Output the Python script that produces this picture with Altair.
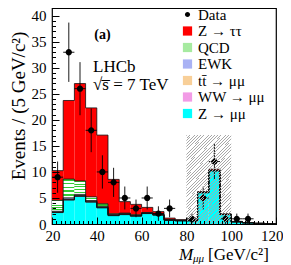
import altair as alt
import pandas as pd

# ---------------- data ----------------
bin_lo = [20, 25, 30, 35, 40, 45, 50, 55, 60, 65, 70, 75, 80, 85, 90, 95, 100, 105, 110, 115]
bin_hi = [25, 30, 35, 40, 45, 50, 55, 60, 65, 70, 75, 80, 85, 90, 95, 100, 105, 110, 115, 120]

z_mumu = [2.2, 4.6, 5.3, 4.2, 3.1, 1.6, 1.8, 1.5, 2.0, 1.7, 0.7, 0.6, 0.6, 6.0, 10.2, 1.8, 0.4, 0.2, 0.1, 0.05]
ww = [0.05, 0.08, 0.08, 0.06, 0.05, 0.04, 0.04, 0.03, 0.03, 0.03, 0.02, 0.02, 0.02, 0.02, 0.02, 0.02, 0.01, 0.01, 0.01, 0.01]
ttbar = [0.05, 0.1, 0.1, 0.1, 0.08, 0.08, 0.06, 0.06, 0.05, 0.05, 0.04, 0.04, 0.03, 0.03, 0.03, 0.02, 0.02, 0.02, 0.01, 0.01]
ewk = [0.15, 0.25, 0.2, 0.15, 0.15, 0.1, 0.1, 0.08, 0.06, 0.05, 0.05, 0.04, 0.04, 0.05, 0.05, 0.03, 0.02, 0.02, 0.01, 0.01]
qcd = [2.1, 3.6, 2.6, 0.7, 0.5, 0.15, 0.1, 0.1, 0.05, 0.05, 0.03, 0.03, 0.02, 0.02, 0.02, 0.02, 0.01, 0.01, 0.0, 0.0]
z_tautau = [5.7, 15.1, 18.7, 17.1, 13.2, 6.6, 2.2, 2.0, 1.0, 0.5, 0.3, 0.1, 0.05, 0.1, 0.2, 0.05, 0.05, 0.03, 0.0, 0.0]

data_x = [22.5, 27.5, 32.5, 37.5, 42.5, 47.5, 52.5, 57.5, 62.5, 67.5, 72.5, 82.5, 87.5, 92.5, 97.5, 102.5, 107.5]
data_y = [9, 33, 26, 18, 10, 8, 5, 3, 5, 2, 3, 1, 5, 12, 1, 1, 1]
data_err = [3.0, 5.7, 5.1, 4.2, 3.2, 2.8, 2.2, 1.7, 2.2, 1.4, 1.7, 1.0, 2.2, 3.5, 1.0, 1.0, 1.0]
data_halfwidth = 2.5

hatch_lo = [80]
hatch_hi = [100]
hatch_top = [17.1]

names = ["Data", "Z → ττ", "QCD", "EWK", "tt\u0304 → μμ", "WW → μμ", "Z → μμ"]
fills = ["#000000", "#ff0000", "#a6eaa0", "#a9b2f4", "#f8cf98", "#f29be6", "#00ffff"]
stack_order = ["Z → μμ", "WW → μμ", "tt\u0304 → μμ", "EWK", "QCD", "Z → ττ"]
stack_vals = [z_mumu, ww, ttbar, ewk, qcd, z_tautau]

x_ticks = [20, 40, 60, 80, 100, 120]
x_minor = list(range(20, 121, 2))
y_ticks = [0, 5, 10, 15, 20, 25, 30, 35, 40]
y_minor = list(range(0, 41, 1))

# ---------------- tables ----------------
rows, line_rows = [], []
cum = [0.0] * len(bin_lo)
for name, vals in zip(stack_order, stack_vals):
    tops = []
    for i in range(len(bin_lo)):
        y0 = cum[i]
        y1 = cum[i] + vals[i]
        rows.append(dict(lo=bin_lo[i], hi=bin_hi[i], y0=y0, y1=y1, comp=name))
        tops.append(y1)
        cum[i] = y1
    for i in range(len(bin_lo)):
        line_rows.append(dict(edge=bin_lo[i], top=tops[i], comp=name))
    line_rows.append(dict(edge=bin_hi[-1], top=tops[-1], comp=name))
bars_df = pd.DataFrame(rows)
lines_df = pd.DataFrame(line_rows)

pts_df = pd.DataFrame(dict(x=data_x, y=data_y, err=data_err))
pts_df["lo"] = pts_df.y - pts_df.err
pts_df["hi"] = pts_df.y + pts_df.err
pts_df["xl"] = pts_df.x - data_halfwidth
pts_df["xr"] = pts_df.x + data_halfwidth
pts_df["comp"] = "Data"

hatch_df = pd.DataFrame(dict(lo=hatch_lo, hi=hatch_hi, top=hatch_top))

FONT = "Liberation Serif"
XS = alt.Scale(domain=[20, 120], nice=False, zero=False)
YS = alt.Scale(domain=[0, 41.5], nice=False, zero=False)

color_scale = alt.Scale(domain=names, range=fills)
circ = "M-0.55,0A0.55,0.55 0 1,0 0.55,0A0.55,0.55 0 1,0 -0.55,0Z"
shape_scale = alt.Scale(domain=names, range=[circ] + ["square"] * 6)
legend = alt.Legend(title=None, orient="none", legendX=128, legendY=-1)


def stripes(color, bg, n, frac):
    stops = []
    for k in range(n):
        a = k / n
        b = (k + frac) / n
        c = min((k + 1) / n, 1.0)
        stops += [alt.GradientStop(color=color, offset=a), alt.GradientStop(color=color, offset=b),
                  alt.GradientStop(color=bg, offset=b), alt.GradientStop(color=bg, offset=c)]
    return stops


# ---------------- layers ----------------
bars = alt.Chart(bars_df).mark_rect().encode(
    x=alt.X("lo:Q", scale=XS, axis=alt.Axis(orient="bottom", values=x_ticks, ticks=False, domain=False,
                                            grid=False, labelFont=FONT, labelFontSize=15, labelColor="black",
                                            labelPadding=4, labelFlush=True, labelFlushOffset=7,
                                            labelOverlap=False, title=None)),
    x2="hi:Q",
    y=alt.Y("y0:Q", scale=YS, axis=alt.Axis(orient="left", values=y_ticks, ticks=False, domain=False,
                                            grid=False, labelFont=FONT, labelFontSize=15, labelColor="black",
                                            labelPadding=6, labelFlush=False, labelOverlap=False, title=None)),
    y2="y1:Q",
    color=alt.Color("comp:N", scale=color_scale, legend=legend),
)

qcd_over = alt.Chart(bars_df).transform_filter(alt.datum.comp == "QCD").mark_rect(
    fill=alt.Gradient(gradient="linear", x1=0, y1=0, x2=0, y2=1,
                      stops=stripes("#33cc33", "#ffffff", 5, 0.4))
).encode(
    x=alt.X("lo:Q", scale=XS, axis=None), x2="hi:Q",
    y=alt.Y("y0:Q", scale=YS, axis=None), y2="y1:Q",
)

lines = alt.Chart(lines_df).mark_line(interpolate="step-after", color="#111111", strokeWidth=0.8).encode(
    x=alt.X("edge:Q", scale=XS, axis=None),
    y=alt.Y("top:Q", scale=YS, axis=None),
    detail="comp:N",
)

err_v = alt.Chart(pts_df).mark_rule(color="black", strokeWidth=0.9).encode(
    x=alt.X("x:Q", scale=XS, axis=None), y=alt.Y("lo:Q", scale=YS, axis=None), y2="hi:Q")
err_h = alt.Chart(pts_df).mark_rule(color="black", strokeWidth=0.9).encode(
    x=alt.X("xl:Q", scale=XS, axis=None), x2="xr:Q", y=alt.Y("y:Q", scale=YS, axis=None))

points = alt.Chart(pts_df).mark_point(filled=True, opacity=1, strokeWidth=0).encode(
    x=alt.X("x:Q", scale=XS, axis=None),
    y=alt.Y("y:Q", scale=YS, axis=None),
    color=alt.Color("comp:N", scale=color_scale, legend=legend),
    shape=alt.Shape("comp:N", scale=shape_scale, legend=legend),
    size=alt.value(130),
)

hatch = alt.Chart(hatch_df).mark_rect(
    fill=alt.Gradient(gradient="linear", x1=0, y1=0, x2=0.593, y2=1.2,
                      stops=stripes("#a8a8a8", "rgba(255,255,255,0)", 48, 0.3))
).encode(
    x=alt.X("lo:Q", scale=XS, axis=None), x2="hi:Q",
    y=alt.Y("top:Q", scale=YS, axis=None), y2=alt.datum(0),
)

one = pd.DataFrame({"k": [0]})


def txt(s, x, y, size, **kw):
    return alt.Chart(one).mark_text(text=s, font=FONT, fontSize=size, color="black", **kw).encode(
        x=alt.value(x), y=alt.value(y))


labels = [
    txt("(a)", 50.5, 27, 14, fontWeight="bold"),
    txt("LHCb", 41, 59, 17, align="left"),
    txt("√s\u0305 = 7 TeV", 41, 77, 17, align="left"),
    txt("Events / (5 GeV/c²)", -33, 98, 19, angle=270),
    txt("M", 127, 247, 17, align="left", fontStyle="italic"),
    txt("μμ", 141, 251, 11, align="left", fontStyle="italic"),
    txt("[GeV/c²]", 156, 247, 17, align="left"),
]

# inward ticks (major and minor) as extra axes
dummy = pd.DataFrame({"a": [20], "b": [0]})
major = alt.Chart(dummy).mark_point(opacity=0).encode(
    x=alt.X("a:Q", scale=XS, axis=alt.Axis(orient="bottom", values=x_ticks, labels=False, domain=False,
                                           grid=False, tickSize=7, offset=-7, tickColor="black",
                                           tickWidth=1, title=None, zindex=2)),
    y=alt.Y("b:Q", scale=YS, axis=alt.Axis(orient="left", values=y_ticks, labels=False, domain=False,
                                           grid=False, tickSize=7, offset=-7, tickColor="black",
                                           tickWidth=1, title=None, zindex=2)),
)
minor = alt.Chart(dummy).mark_point(opacity=0).encode(
    x=alt.X("a:Q", scale=XS, axis=alt.Axis(orient="bottom", values=x_minor, labels=False, domain=False,
                                           grid=False, tickSize=3.5, offset=-3.5, tickColor="black",
                                           tickWidth=1, title=None, zindex=2)),
    y=alt.Y("b:Q", scale=YS, axis=alt.Axis(orient="left", values=y_minor, labels=False, domain=False,
                                           grid=False, tickSize=3.5, offset=-3.5, tickColor="black",
                                           tickWidth=1, title=None, zindex=2)),
)

chart = alt.layer(bars, qcd_over, lines, err_v, err_h, points, hatch, *labels, major, minor).resolve_axis(
    x="independent", y="independent"
).properties(
    width=224, height=216,
    autosize=alt.AutoSizeParams(type="none"),
    padding={"left": 44, "top": 0, "right": 7, "bottom": 41},
).configure_view(stroke="black", strokeWidth=1.2).configure_legend(
    labelFont=FONT, labelFontSize=15, labelColor="black", symbolSize=85,
    symbolStrokeColor="black", symbolStrokeWidth=0.8, rowPadding=0.5, padding=0,
    labelOffset=3, symbolOpacity=1,
)

chart.save("out.html", embed_options={"renderer": "svg", "actions": False})
